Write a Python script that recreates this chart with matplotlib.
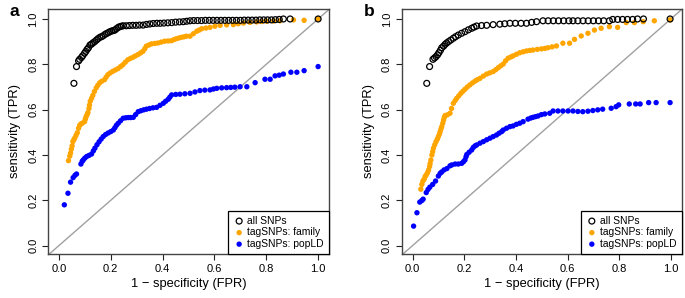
import matplotlib
matplotlib.use("Agg")
import matplotlib.pyplot as plt
import numpy as np

plt.rcParams['font.family'] = ['Liberation Sans', 'DejaVu Sans']

# ---------------- Panel a ----------------
a_all_x = [0.058,0.068,0.076,0.080,0.087,0.092,0.099,0.104,0.109,0.114,0.120,0.126,0.132,0.138,0.145,0.151,0.158,0.165,0.171,0.178,0.184,0.191,0.197,0.204,0.210,0.216,0.222,0.229,0.235,0.241,0.248,0.260,0.272,0.285,0.298,0.311,0.325,0.338,0.351,0.364,0.378,0.391,0.405,0.420,0.435,0.450,0.465,0.480,0.493,0.506,0.520,0.535,0.550,0.565,0.580,0.595,0.610,0.625,0.640,0.655,0.670,0.685,0.700,0.715,0.730,0.745,0.760,0.775,0.790,0.805,0.820,0.835,0.850,0.866,0.892,1.000]
a_all_y = [0.716,0.790,0.815,0.822,0.830,0.838,0.849,0.857,0.866,0.873,0.885,0.889,0.895,0.900,0.907,0.913,0.919,0.922,0.926,0.932,0.936,0.940,0.944,0.947,0.949,0.951,0.957,0.963,0.966,0.968,0.970,0.970,0.971,0.972,0.972,0.973,0.973,0.976,0.978,0.980,0.981,0.981,0.982,0.983,0.984,0.986,0.987,0.988,0.990,0.992,0.993,0.993,0.993,0.994,0.994,0.994,0.994,0.994,0.994,0.994,0.994,0.994,0.994,0.995,0.995,0.995,0.995,0.996,0.996,0.996,0.996,0.997,0.998,1.000,1.000,1.000]

a_fam_x = [0.037,0.042,0.045,0.048,0.051,0.054,0.058,0.061,0.066,0.071,0.076,0.080,0.084,0.090,0.099,0.102,0.105,0.109,0.112,0.116,0.118,0.121,0.126,0.131,0.137,0.144,0.150,0.157,0.165,0.176,0.182,0.189,0.198,0.208,0.218,0.228,0.238,0.247,0.256,0.266,0.276,0.286,0.295,0.305,0.315,0.324,0.331,0.337,0.347,0.357,0.370,0.382,0.395,0.408,0.421,0.434,0.444,0.453,0.463,0.472,0.482,0.492,0.506,0.519,0.532,0.541,0.551,0.567,0.583,0.602,0.622,0.647,0.673,0.692,0.712,0.737,0.763,0.782,0.802,0.828,0.853,0.905,0.946,1.000]
a_fam_y = [0.375,0.395,0.408,0.425,0.440,0.459,0.468,0.474,0.486,0.498,0.518,0.530,0.536,0.540,0.547,0.558,0.569,0.578,0.587,0.605,0.620,0.637,0.650,0.663,0.680,0.696,0.707,0.718,0.725,0.732,0.743,0.754,0.762,0.769,0.775,0.781,0.790,0.798,0.809,0.820,0.826,0.831,0.837,0.843,0.850,0.857,0.868,0.880,0.885,0.890,0.892,0.894,0.898,0.902,0.903,0.904,0.909,0.913,0.916,0.919,0.921,0.924,0.924,0.935,0.946,0.951,0.957,0.960,0.963,0.968,0.972,0.974,0.975,0.979,0.982,0.985,0.987,0.989,0.990,0.991,0.992,0.996,0.994,1.000]

a_pop_x = [0.021,0.035,0.045,0.055,0.062,0.068,0.085,0.090,0.094,0.100,0.107,0.116,0.126,0.133,0.139,0.147,0.155,0.163,0.171,0.180,0.190,0.200,0.210,0.216,0.222,0.229,0.238,0.248,0.258,0.268,0.277,0.287,0.296,0.306,0.316,0.327,0.338,0.350,0.363,0.377,0.390,0.403,0.412,0.422,0.428,0.435,0.451,0.467,0.486,0.506,0.525,0.544,0.563,0.583,0.596,0.609,0.628,0.647,0.663,0.679,0.699,0.725,0.757,0.795,0.815,0.834,0.850,0.866,0.895,0.918,0.946,1.000]
a_pop_y = [0.180,0.231,0.280,0.300,0.310,0.316,0.360,0.372,0.378,0.386,0.393,0.398,0.404,0.418,0.430,0.445,0.458,0.470,0.481,0.490,0.497,0.503,0.510,0.520,0.531,0.540,0.551,0.562,0.564,0.565,0.565,0.566,0.578,0.591,0.595,0.599,0.602,0.605,0.608,0.610,0.619,0.628,0.637,0.646,0.655,0.665,0.667,0.668,0.670,0.672,0.678,0.684,0.686,0.687,0.691,0.694,0.696,0.697,0.698,0.699,0.701,0.701,0.719,0.734,0.734,0.749,0.752,0.757,0.765,0.765,0.772,0.790]

# ---------------- Panel b ----------------
b_all_x = [0.055,0.066,0.079,0.085,0.091,0.097,0.102,0.108,0.113,0.120,0.126,0.132,0.139,0.148,0.158,0.167,0.177,0.190,0.203,0.216,0.229,0.238,0.248,0.267,0.287,0.312,0.338,0.357,0.377,0.398,0.420,0.441,0.461,0.480,0.505,0.525,0.545,0.565,0.585,0.605,0.621,0.640,0.660,0.680,0.700,0.720,0.740,0.762,0.775,0.794,0.813,0.832,0.852,0.871,0.894,0.997]
b_all_y = [0.716,0.790,0.822,0.828,0.834,0.842,0.851,0.862,0.873,0.880,0.888,0.894,0.900,0.907,0.915,0.922,0.929,0.937,0.944,0.952,0.959,0.964,0.969,0.971,0.972,0.975,0.977,0.979,0.981,0.981,0.981,0.981,0.985,0.988,0.992,0.992,0.992,0.992,0.992,0.992,0.992,0.992,0.992,0.992,0.992,0.992,0.992,0.992,0.998,0.998,0.998,0.998,0.998,1.000,1.000,1.000]

b_fam_x = [0.032,0.036,0.040,0.045,0.049,0.053,0.058,0.062,0.066,0.068,0.071,0.075,0.078,0.081,0.086,0.091,0.096,0.100,0.104,0.107,0.110,0.113,0.117,0.120,0.123,0.126,0.135,0.145,0.151,0.158,0.165,0.171,0.179,0.187,0.195,0.203,0.212,0.222,0.232,0.242,0.251,0.261,0.274,0.287,0.299,0.312,0.322,0.332,0.341,0.351,0.360,0.370,0.380,0.389,0.402,0.415,0.428,0.441,0.454,0.466,0.483,0.499,0.512,0.524,0.540,0.557,0.582,0.608,0.627,0.653,0.679,0.704,0.730,0.762,0.794,0.827,0.859,0.893,0.936,0.997]
b_fam_y = [0.249,0.270,0.285,0.293,0.305,0.312,0.322,0.333,0.349,0.362,0.378,0.400,0.415,0.430,0.445,0.459,0.470,0.481,0.492,0.503,0.515,0.525,0.540,0.554,0.566,0.574,0.577,0.584,0.605,0.628,0.640,0.650,0.661,0.672,0.681,0.690,0.700,0.709,0.718,0.726,0.732,0.738,0.748,0.757,0.762,0.768,0.776,0.785,0.793,0.801,0.815,0.827,0.832,0.837,0.844,0.851,0.855,0.859,0.861,0.863,0.866,0.868,0.870,0.873,0.877,0.881,0.893,0.893,0.910,0.925,0.937,0.951,0.959,0.966,0.963,0.984,0.984,0.988,0.992,0.996]

b_pop_x = [0.004,0.017,0.028,0.036,0.041,0.053,0.060,0.067,0.078,0.089,0.100,0.107,0.113,0.122,0.133,0.145,0.152,0.165,0.177,0.190,0.197,0.203,0.207,0.210,0.219,0.229,0.235,0.242,0.248,0.261,0.274,0.287,0.300,0.312,0.325,0.335,0.345,0.351,0.364,0.377,0.389,0.402,0.415,0.428,0.447,0.458,0.466,0.476,0.486,0.499,0.512,0.531,0.544,0.563,0.582,0.602,0.621,0.640,0.659,0.679,0.698,0.717,0.736,0.769,0.788,0.798,0.839,0.864,0.881,0.914,0.943,0.997]
b_pop_y = [0.086,0.145,0.192,0.199,0.205,0.234,0.248,0.258,0.270,0.285,0.307,0.319,0.325,0.334,0.340,0.352,0.356,0.360,0.360,0.363,0.370,0.378,0.392,0.402,0.412,0.422,0.433,0.440,0.444,0.452,0.459,0.467,0.474,0.481,0.488,0.496,0.503,0.510,0.518,0.525,0.528,0.535,0.540,0.547,0.558,0.563,0.566,0.569,0.572,0.578,0.581,0.584,0.594,0.594,0.594,0.594,0.594,0.592,0.591,0.593,0.596,0.599,0.602,0.606,0.613,0.621,0.625,0.625,0.625,0.631,0.631,0.631]

labels = ["all SNPs", "tagSNPs: family", "tagSNPs: popLD"]
ticks = [0.0, 0.2, 0.4, 0.6, 0.8, 1.0]
tick_labels = ["0.0", "0.2", "0.4", "0.6", "0.8", "1.0"]
panels = ["a", "b"]

fig = plt.figure(figsize=(6.85, 2.98), dpi=100)
W, H = 685, 298
boxes = [(48, 329), (401.7, 681.7)]
top_px, bot_px = 9, 254

data = [
    (a_all_x, a_all_y, a_fam_x, a_fam_y, a_pop_x, a_pop_y),
    (b_all_x, b_all_y, b_fam_x, b_fam_y, b_pop_x, b_pop_y),
]

for i, (l, r) in enumerate(boxes):
    ax = fig.add_axes([l / W, (H - bot_px) / H, (r - l) / W, (bot_px - top_px) / H])
    ax_x, ax_y, fx, fy, px, py = data[i]
    ax.axline((0, 0), (1, 1), color='#a0a0a0', lw=1.0, zorder=1)
    ax.scatter(fx, fy, s=15, color='#FFA500', edgecolors='none', zorder=2, label=labels[1])
    ax.scatter(px, py, s=15, color='#0000FF', edgecolors='none', zorder=3, label=labels[2])
    ax.scatter(ax_x, ax_y, s=18, facecolors='none', edgecolors='black', linewidths=0.9, zorder=4, label=labels[0])
    ax.set_xlim(-0.042, 1.042)
    ax.set_ylim(-0.037, 1.044)
    ax.set_xticks(ticks)
    ax.set_xticklabels(tick_labels)
    ax.set_yticks(ticks)
    ax.set_yticklabels(tick_labels, rotation=90, va='center')
    ax.tick_params(direction='out', length=4.5, width=0.8, labelsize=8, colors='#222222', labelcolor='black', pad=2.5)
    for sp in ax.spines.values():
        sp.set_color('#444444')
        sp.set_linewidth(1.0)
    ax.set_xlabel("1 \u2212 specificity (FPR)", fontsize=9.3, labelpad=3)
    ax.set_ylabel("sensitivity (TPR)", fontsize=9.3, labelpad=5)
    h, lab = ax.get_legend_handles_labels()
    order = [2, 0, 1]
    leg = ax.legend([h[k] for k in order], [lab[k] for k in order], loc='lower right',
                    borderaxespad=0, fontsize=7.4, frameon=True, fancybox=False,
                    edgecolor='black', framealpha=1, handletextpad=0.2, handlelength=1.2,
                    labelspacing=0.15, borderpad=0.5, scatterpoints=1)
    leg.get_frame().set_linewidth(0.9)
    fig.text((l - 38) / W, (H - 12) / H, panels[i], fontsize=12.5, fontweight='bold', va='center', ha='left')

fig.savefig("out.png", dpi=100)
